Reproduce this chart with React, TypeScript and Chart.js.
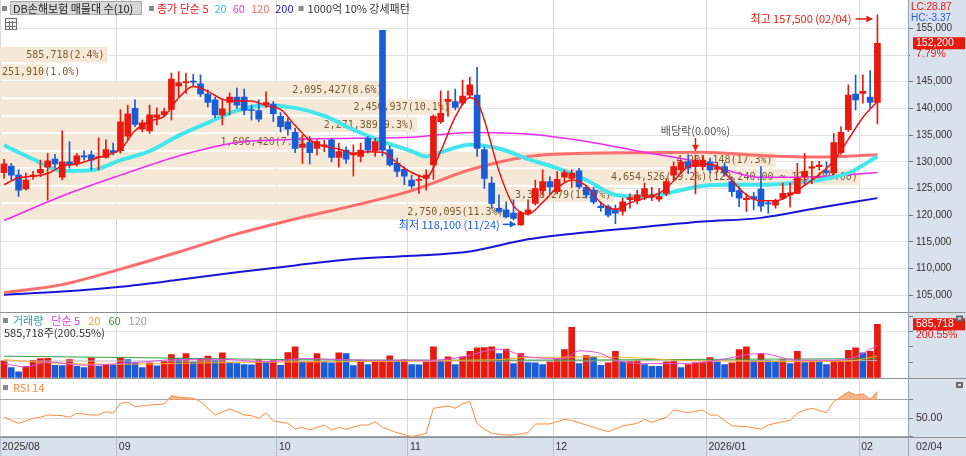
import React, { useEffect, useRef } from "react";
import { Chart, registerables } from "chart.js";

Chart.register(...registerables);

// ---------------- data ----------------
const openP = [127950,129200,127500,124900,127200,127900,129000,130500,127100,130000,
 129600,131100,131300,130800,130800,132100,132100,134800,140000,136100,
 135800,138300,138800,139800,144200,144800,145100,144600,142700,141600,
 138800,141100,142100,142100,139800,139600,140700,140800,138500,137500,
 135500,132700,133600,132500,132900,134100,130800,132200,131300,131000,
 134400,132100,154600,132300,129700,128600,126600,126500,126900,129400,
 137500,141300,141300,141000,142500,142500,132300,126000,121300,121000,
 120400,118200,120400,122200,124600,126300,124400,127100,126900,128300,
 125200,124700,121700,121600,121000,120700,122900,122700,123500,123400,
 123000,124100,127500,128500,130000,129100,129100,130000,128600,129100,
 126300,124600,122900,123500,124900,122300,121900,123200,123800,124100,
 127200,128800,129100,128300,127900,131700,136000,142700,142800,142100,
 141100];
const highP = [130450,129700,128500,127900,128200,130300,131600,131400,135800,133800,
 131600,132100,132000,134500,134100,133500,139800,140600,141600,137800,
 140600,140100,140000,146600,146900,146600,146400,146300,143500,142100,
 141500,142900,143800,143600,140600,141600,143100,141300,139200,138200,
 136300,135000,134700,134100,134000,134400,133500,132800,133200,133500,
 134700,134400,154600,133000,130700,129100,127500,127500,128500,138800,
 143300,143300,143600,145300,145800,147700,132800,127200,123800,122500,
 122900,120700,122900,126600,128500,127200,128200,128500,128500,128800,
 125600,125200,122500,121900,121900,123200,124000,124700,126000,125200,
 125000,126900,130000,130300,131300,131300,131000,130700,129800,129800,
 127200,125300,124000,124300,129100,122800,123000,126000,126000,129700,
 131600,130100,130100,130000,135300,136600,144400,146300,146300,147100,
 157500];
const lowP = [126900,126600,123500,124700,126700,127200,122800,128800,126600,128800,
 129200,130300,128500,128500,130700,131300,131600,134100,136600,135600,
 135300,136900,138500,137800,142200,142800,144100,142200,140300,138200,
 136900,138800,140000,138800,137800,137500,140200,137500,135600,135000,
 131700,129700,129600,131300,131900,130000,129000,129700,127300,130000,
 131600,131000,131100,129200,127200,125700,125000,124100,124700,126700,
 137200,138500,139700,140600,142000,131000,125000,121300,120400,119500,
 119100,118100,120000,121900,123700,123900,124000,126300,125200,124900,
 123200,122100,120700,119700,118400,120000,121300,122100,122900,122700,
 122600,123600,126600,127800,127800,124000,128500,127900,128000,127300,
 123500,121600,120700,121000,120700,120400,121300,122900,121500,124000,
 125700,125900,128500,127600,127600,131400,135700,139700,141000,140000,
 137100];
const closeP = [129600,127500,124700,126600,127500,128600,130200,129600,130000,129400,
 131100,130900,130300,131000,132300,131700,137500,139000,137000,137300,
 138800,138800,139400,145500,144800,145000,144900,142700,141100,138800,
 139900,142100,140600,139600,139600,138000,141100,139000,136600,136100,
 132500,133300,131700,133800,133200,130800,131900,130500,131600,132200,
 132200,133800,132200,129400,128200,127300,125500,126700,127500,138500,
 139100,141700,140200,142300,144400,132500,126900,122200,120700,119700,
 119400,120500,121000,125000,126300,125300,126700,128000,127900,125300,
 123800,122500,121400,120000,120400,122500,123300,123800,125000,123800,
 123500,126300,129100,130000,128800,130300,130300,128500,129000,127900,
 124400,123200,123200,123000,121700,122100,122700,124100,124200,126900,
 128200,129100,129400,128000,133600,135500,142500,141600,143200,141100,
 152200];
const volume = [186000,113000,66000,128000,194000,212000,215000,139000,135000,201000,
 128000,113000,219000,128000,150000,139000,219000,201000,165000,113000,
 165000,132000,183000,256000,212000,267000,175000,212000,238000,194000,
 274000,165000,157000,146000,144000,201000,175000,194000,139000,278000,
 340000,175000,178000,267000,175000,165000,274000,267000,135000,194000,
 146000,180000,190000,241000,194000,198000,146000,144000,175000,340000,
 194000,230000,146000,230000,292000,329000,331000,340000,267000,314000,
 157000,267000,168000,165000,146000,175000,201000,311000,552000,157000,
 245000,230000,139000,165000,292000,175000,183000,186000,146000,128000,
 126000,175000,183000,113000,146000,165000,167000,223000,175000,146000,
 165000,311000,340000,194000,267000,194000,175000,201000,157000,292000,
 168000,194000,190000,146000,194000,196000,303000,329000,274000,292000,
 585718];

// price moving averages (index -> value)
const ma5Idx = [0,2,4,6,8,10,12,14,16,18,20,22,24,26,28,30,32,34,36,38,40,42,44,46,48,50,52,54,56,58,60,62,64,65,66,68,70,72,74,76,78,80,82,84,86,88,90,92,94,96,98,100,102,104,106,108,110,112,114,116,118,120];
const ma5 = [125700,127000,127300,127800,129200,129600,130400,131200,132300,135800,137600,138500,142000,144100,143200,141700,141400,141400,140500,139800,136800,134100,132900,132400,131600,131900,131800,129800,128000,127100,132000,138400,142000,141300,137800,128300,121800,120200,122400,125100,126600,125500,122300,121100,122300,123200,124100,126400,129100,129600,129200,126500,123800,122700,122700,123800,125600,127600,130200,134200,138300,141300];
const ma20Idx = [0,4,8,12,16,20,24,28,32,36,40,44,48,52,56,58,60,64,68,72,76,80,84,88,92,96,100,104,108,112,116,120];
const ma20 = [133100,130500,128300,128400,130300,132000,134900,137300,139600,140600,140100,138600,136000,133800,132000,131000,131800,133200,132500,130500,128800,126600,123800,123500,124400,125500,125700,125700,126000,126600,127900,131000];
const longIdx = [0,8,16,24,32,40,48,56,64,72,80,88,96,104,112,120];
const ma60 = [119000,123600,127500,131100,133600,134200,134400,134600,135500,135200,133800,131800,129800,127100,127200,128000];
const ma120 = [105500,107000,109900,113100,116500,119300,121800,124600,128500,131000,131600,131700,131800,131200,130900,131300];
const ma200 = [105100,105700,106600,107900,109300,110600,111800,112400,113200,115500,116800,117800,118800,119500,121400,123200];

// RSI 14
const rsiIdx = [0,2,4,5,6,8,9,10,12,13,14,15,16,17,18,19,20,22,23,24,26,27,29,31,33,34,35,36,37,39,40,41,42,44,45,46,47,49,50,51,52,53,54,56,57,58,59,61,62,63,64,65,66,67,68,69,70,71,72,73,75,77,78,81,83,85,87,88,89,91,92,94,96,97,98,100,102,104,105,107,108,109,110,111,113,114,115,116,117,118,119,120];
const rsi = [51.1,44.5,50.0,51.1,53.6,52.9,51.1,55.5,53.6,53.6,57.2,55.5,66.4,67.5,62.7,63.5,64.5,65.6,74.7,73.0,71.9,68.2,53.6,60.2,53.6,52.9,50.0,56.1,47.0,44.5,38.3,40.1,37.2,42.7,37.2,40.1,38.0,42.7,42.7,46.3,40.0,37.2,34.3,29.9,31.7,33.5,60.9,63.5,60.9,66.0,68.2,44.0,38.0,33.6,32.5,31.7,31.7,33.0,34.3,43.8,43.8,48.9,47.6,40.2,35.4,41.6,44.5,48.9,45.5,51.1,59.1,56.1,59.1,53.6,53.6,41.6,40.9,38.0,42.7,46.3,47.6,55.5,59.1,60.9,56.1,68.2,73.6,79.1,75.5,76.6,70.8,79.1];

// volume moving averages
const vma5Idx = [0,3,6,11,18,22,27,31,36,41,45,50,54,59,63,68,72,77,79,82,84,89,93,98,104,109,114,117,120];
const vma5 = [157000,121000,175000,139000,168000,194000,205000,201000,175000,212000,205000,194000,194000,194000,230000,314000,230000,212000,296000,267000,194000,157000,157000,194000,267000,194000,194000,230000,358000];
const vma20Idx = [0,8,16,24,32,40,48,56,64,68,72,78,82,88,92,100,108,116,120];
const vma20 = [200000,158000,150000,160000,170000,175000,178000,185000,195000,200000,225000,228000,230000,215000,195000,185000,178000,185000,240000];
const vma60Idx = [0,20,40,60,80,100,120];
const vma60 = [238000,220000,200000,194000,196000,205000,210000];
const vma120Idx = [0,60,120];
const vma120 = [185000,185000,190000];

// volume profile (매물대), top band first
const bandEdges = [151700,148450,145150,141900,138600,135350,132050,128800,125500,122250,118950];
const bandVolume = [585718,251910,2095427,2456937,2271389,1696420,4201148,4654526,3308279,2750095];
const bandPct = [2.4,1.0,8.6,10.1,9.3,7.0,17.3,19.2,13.7,11.3];
const pocRange = [129240, 125460];

const priceTicks = [105000,110000,115000,120000,125000,130000,135000,140000,145000,150000,155000];
const volTicks = [0,170000,340000,505000,675000];
const rsiTicks = [30,50,70];
const monthTickIdx = [-0.55,15.5,37.5,55.5,75.5,96.5,117.5];
const monthLabels = ["2025/08","09","10","11","12","2026/01","02"];

const highDate = "02/04";
const lowDate = "11/24";
const exDivIdx = 95;
const lastDate = "02/04";
const changePct = "7.79%";
const volRatio = "200.55%";
const lcText = "LC:28.87";
const hcText = "HC:-3.37";

// ---------------- style ----------------
const X_MIN = -0.55, X_MAX = 124.2;
const PRICE_MIN = 101967, PRICE_MAX = 160300;
const VOL_MAX = 725000;
const RSI_MIN = 29.56, RSI_MAX = 94;
const VOL_GRID = 505000;
const PROFILE_SPAN = 0.948;
const RED = "#e8190f";
const BLUE = "#1a5cd6";
const AXIS_BG = "#d8e1ec";
const BAND_FILL = "#f6e8d6";
const BAND_TEXT = "#7a5c30";
const KR = '"Noto Sans CJK KR", "Noto Sans", sans-serif';
const NUM = '"Liberation Sans", Arial, sans-serif';
const MONO = '"DejaVu Sans Mono", "Liberation Mono", monospace';

const pts = (idx: number[], vals: number[]) => idx.map((x, k) => ({ x, y: vals[k] }));
const fmt = (v: number) => v.toLocaleString("en-US");
const fmt2 = (v: number) => v.toLocaleString("en-US", { minimumFractionDigits: 2, maximumFractionDigits: 2 });

const upColor = (i: number) => (closeP[i] >= openP[i] ? RED : BLUE);
const volColor = (i: number) => (i === 0 || volume[i] >= volume[i - 1] ? RED : BLUE);

function arrow(ctx: CanvasRenderingContext2D, x0: number, y0: number, x1: number, y1: number, color: string) {
  ctx.strokeStyle = color;
  ctx.fillStyle = color;
  ctx.lineWidth = 1.5;
  ctx.beginPath();
  ctx.moveTo(x0, y0);
  ctx.lineTo(x1, y1);
  ctx.stroke();
  const a = Math.atan2(y1 - y0, x1 - x0);
  ctx.beginPath();
  ctx.moveTo(x1, y1);
  ctx.lineTo(x1 - 6 * Math.cos(a) + 3.5 * Math.sin(a), y1 - 6 * Math.sin(a) - 3.5 * Math.cos(a));
  ctx.lineTo(x1 - 6 * Math.cos(a) - 3.5 * Math.sin(a), y1 - 6 * Math.sin(a) + 3.5 * Math.cos(a));
  ctx.closePath();
  ctx.fill();
}

const decor = {
  id: "decor",
  beforeDraw(chart: any) {
    const { ctx, width, height, chartArea } = chart;
    ctx.save();
    ctx.fillStyle = "#ffffff";
    ctx.fillRect(0, 0, width, height);
    ctx.fillStyle = AXIS_BG;
    ctx.fillRect(chartArea.right, 0, width - chartArea.right, height);
    ctx.fillRect(0, chartArea.bottom, width, height - chartArea.bottom);
    ctx.restore();
  },
  beforeDatasetsDraw(chart: any) {
    const { ctx, chartArea } = chart;
    const ys = chart.scales.y;
    const maxPct = Math.max(...bandPct);
    ctx.save();
    ctx.beginPath();
    ctx.rect(chartArea.left, ys.top, chartArea.width, ys.bottom - ys.top);
    ctx.clip();
    ctx.font = `10px ${MONO}`;
    ctx.textBaseline = "middle";
    bandPct.forEach((pct, k) => {
      const top = ys.getPixelForValue(bandEdges[k]);
      const bot = ys.getPixelForValue(bandEdges[k + 1]);
      const w = (pct / maxPct) * chartArea.width * PROFILE_SPAN;
      ctx.fillStyle = BAND_FILL;
      ctx.fillRect(chartArea.left, top + 1, w, bot - top - 2);
      let label = `${fmt(bandVolume[k])}(${pct.toFixed(1)}%)`;
      if (pct === maxPct) label += `(${fmt2(pocRange[0])} ~ ${fmt2(pocRange[1])})`;
      const tw = ctx.measureText(label).width;
      const right = Math.max(chartArea.left + w - 3, chartArea.left + 2 + tw);
      ctx.fillStyle = BAND_TEXT;
      ctx.textAlign = "right";
      ctx.fillText(label, right, (top + bot) / 2 + 0.5);
    });
    ctx.restore();
  },
  afterDraw(chart: any) {
    const { ctx, chartArea, width, height } = chart;
    const xs = chart.scales.x, ys = chart.scales.y, yv = chart.scales.yv, yr = chart.scales.yr;
    const px = (v: number) => xs.getPixelForValue(v);
    ctx.save();

    // panel separators
    ctx.strokeStyle = "#8f8f8f";
    ctx.lineWidth = 1;
    const hline = (y: number) => {
      const yy = Math.round(y) + 0.5;
      ctx.beginPath();
      ctx.moveTo(0, yy);
      ctx.lineTo(width, yy);
      ctx.stroke();
    };
    hline(yv.top);
    hline(yr.top);
    hline(chartArea.bottom);
    ctx.strokeStyle = "#9aa3ae";
    ctx.beginPath();
    ctx.moveTo(Math.round(chartArea.right) + 0.5, 0);
    ctx.lineTo(Math.round(chartArea.right) + 0.5, height);
    ctx.stroke();

    const text = (s: string, x: number, y: number, color: string, font: string, align: CanvasTextAlign = "left") => {
      ctx.font = font;
      ctx.fillStyle = color;
      ctx.textAlign = align;
      ctx.textBaseline = "middle";
      ctx.fillText(s, x, y);
      return ctx.measureText(s).width;
    };
    const sq = (x: number, y: number) => {
      ctx.fillStyle = "#8a8a8a";
      ctx.fillRect(x, y - 2, 5, 5);
    };
    const series = (items: [string, string][], x: number, y: number, gap: number) => {
      let cx = x;
      items.forEach(([s, c]) => {
        cx += text(s, cx, y, c, `11px ${KR}`) + gap;
      });
      return cx;
    };

    // price panel legend
    sq(2, 8);
    ctx.fillStyle = "#d7d7d7";
    ctx.fillRect(10, 1, 132, 14);
    ctx.strokeStyle = "#a8a8a8";
    ctx.strokeRect(10.5, 1.5, 131, 13);
    text("DB손해보험 매물대 수(10)", 13, 8.5, "#222", `11px ${KR}`);
    sq(149, 8);
    const endX = series([["종가 단순 5", "#ee1c1c"], ["20", "#22cfe0"], ["60", "#e03ee0"], ["120", "#ff6b6b"], ["200", "#2020dc"]], 157, 8.5, 6);
    sq(endX - 1, 8);
    text("1000억 10% 강세패턴", endX + 8, 8.5, "#333", `11px ${KR}`);
    // small table icon
    ctx.fillStyle = "#f2f2f2";
    ctx.fillRect(5, 18, 12, 12);
    ctx.strokeStyle = "#707070";
    ctx.strokeRect(5.5, 18.5, 11, 11);
    ctx.beginPath();
    [22.5, 26.5].forEach((y) => { ctx.moveTo(6, y); ctx.lineTo(16, y); });
    [9.5, 12.5].forEach((x) => { ctx.moveTo(x, 21); ctx.lineTo(x, 29); });
    ctx.stroke();

    // volume legend
    sq(3, 320);
    series([["거래량", "#2f9e9e"], ["단순 5", "#e040e0"], ["20", "#f0a830"], ["60", "#3a9a40"], ["120", "#9a9a9a"]], 13, 320.5, 8);
    text(`${fmt(volume[volume.length - 1])}주(${volRatio})`, 4, 333, "#333", `11px ${KR}`);

    // RSI legend
    sq(3, 387);
    text("RSI 14", 13, 388, "#ff8a3d", `11px ${KR}`);

    // high / low annotations
    const hiIdx = highP.indexOf(Math.max(...highP));
    const loIdx = lowP.indexOf(Math.min(...lowP));
    const hx = px(hiIdx) - 5, hy = ys.getPixelForValue(highP[hiIdx]) + 4;
    arrow(ctx, hx - 17, hy, hx, hy, RED);
    text(`최고 ${fmt(highP[hiIdx])} (${highDate})`, hx - 21, hy, RED, `11px ${KR}`, "right");
    const lx = px(loIdx) - 5, ly = ys.getPixelForValue(lowP[loIdx]) - 1;
    arrow(ctx, lx - 13, ly, lx, ly, BLUE);
    text(`최저 ${fmt(lowP[loIdx])} (${lowDate})`, lx - 16, ly, BLUE, `11px ${KR}`, "right");
    // ex-dividend marker
    const dx = px(exDivIdx), dy = ys.getPixelForValue(highP[exDivIdx]);
    arrow(ctx, dx, dy - 17, dx, dy - 4, RED);
    text("배당락(0.00%)", dx, dy - 24, "#555", `11px ${KR}`, "center");

    // right axis labels
    text(lcText, 911, 7, RED, `10px ${NUM}`);
    text(hcText, 911, 18, "#2a62d8", `10px ${NUM}`);
    const last = closeP.length - 1;
    const cy = ys.getPixelForValue(closeP[last]);
    ctx.fillStyle = AXIS_BG;
    ctx.fillRect(chartArea.right + 2, cy + 5, width - chartArea.right - 3, 12);
    ctx.fillStyle = RED;
    ctx.fillRect(913, cy - 6, 52, 12);
    text(fmt(closeP[last]), 916, cy, "#fff", `10.5px ${NUM}`);
    text(changePct, 916, cy + 11, RED, `10.5px ${NUM}`);
    const vy = yv.getPixelForValue(volume[last]);
    ctx.fillStyle = RED;
    ctx.fillRect(913, vy - 6, 52, 12);
    text(fmt(volume[last]), 916, vy, "#fff", `10.5px ${NUM}`);
    text(volRatio, 916, vy + 11, RED, `10.5px ${NUM}`);
    [yv.top + 4, yr.top + 4].forEach((y) => {
      ctx.fillStyle = "#6b6b6b";
      ctx.fillRect(956, y, 7, 6);
      ctx.fillStyle = "#dcdcdc";
      ctx.fillRect(958, y + 2, 3, 2);
    });

    // x axis labels
    const ly2 = (chartArea.bottom + height) / 2 + 0.5;
    monthTickIdx.forEach((v, k) => {
      const x = k === 0 ? 2 : px(v) + 2;
      text(monthLabels[k], x, ly2, "#333", `10.5px ${NUM}`);
    });
    text(lastDate, chartArea.right + 8, ly2, "#333", `10.5px ${NUM}`);
    ctx.restore();
  },
};

export default function App() {
  const ref = useRef<HTMLCanvasElement>(null);
  useEffect(() => {
    const canvas = ref.current!;
    const idx = openP.map((_, i) => i);
    const line = (data: any[], color: string, width: number, axis: string, order: number) => ({
      type: "line" as const,
      data,
      yAxisID: axis,
      borderColor: color,
      borderWidth: width,
      pointRadius: 0,
      cubicInterpolationMode: "monotone" as const,
      fill: false,
      order,
    });
    const chart = new Chart(canvas, {
      type: "line",
      data: {
        datasets: [
          line(pts(ma5Idx, ma5), "#f01212", 1.5, "y", 0),
          {
            type: "bar",
            data: idx.map((i) => ({ x: i, y: [openP[i], closeP[i]] })),
            yAxisID: "y",
            backgroundColor: (c: any) => upColor(c.dataIndex),
            barThickness: 6,
            minBarLength: 1,
            grouped: false,
            order: 1,
          } as any,
          {
            type: "bar",
            data: idx.map((i) => ({ x: i, y: [lowP[i], highP[i]] })),
            yAxisID: "y",
            backgroundColor: (c: any) => upColor(c.dataIndex),
            barThickness: 1,
            grouped: false,
            order: 2,
          } as any,
          line(pts(ma20Idx, ma20), "#44e6ee", 4, "y", 3),
          line(pts(longIdx, ma60), "#f02af0", 1.5, "y", 4),
          line(pts(longIdx, ma120), "#ff6e6e", 3, "y", 5),
          line(pts(longIdx, ma200), "#1616d8", 2, "y", 6),
          line(pts(vma5Idx, vma5), "#e050e0", 1, "yv", 7),
          line(pts(vma20Idx, vma20), "#f0b030", 1, "yv", 8),
          line(pts(vma60Idx, vma60), "#34a044", 1, "yv", 9),
          line(pts(vma120Idx, vma120), "#b4b4b4", 1, "yv", 10),
          {
            type: "bar",
            data: idx.map((i) => ({ x: i, y: volume[i] })),
            yAxisID: "yv",
            backgroundColor: (c: any) => volColor(c.dataIndex),
            barThickness: 6,
            grouped: false,
            order: 11,
          } as any,
          {
            type: "line",
            data: pts(rsiIdx, rsi),
            yAxisID: "yr",
            borderColor: "#ff8c40",
            borderWidth: 1,
            pointRadius: 0,
            fill: { target: { value: 70 }, above: "rgba(244,156,100,0.75)", below: "rgba(0,0,0,0)" },
            order: 12,
          } as any,
        ],
      },
      options: {
        animation: false,
        responsive: false,
        events: [],
        layout: { padding: 0 },
        plugins: { legend: { display: false }, tooltip: { enabled: false } },
        scales: {
          x: {
            type: "linear",
            min: X_MIN,
            max: X_MAX,
            offset: false,
            position: "bottom",
            afterBuildTicks: (s: any) => { s.ticks = monthTickIdx.map((v) => ({ value: v })); },
            afterFit: (s: any) => { s.height = 19; s.paddingLeft = 0; s.paddingRight = 0; },
            ticks: { display: false },
            grid: { offset: false, color: "#d9d9d9", tickLength: 19, tickColor: "#b6bfca" },
            border: { display: false },
          },
          y: {
            type: "linear",
            position: "right",
            stack: "panels",
            stackWeight: 311.5,
            min: PRICE_MIN,
            max: PRICE_MAX,
            afterBuildTicks: (s: any) => { s.ticks = priceTicks.map((v) => ({ value: v })); },
            afterFit: (s: any) => { s.width = 58; s.paddingTop = 0; s.paddingBottom = 0; },
            ticks: { autoSkip: false, padding: 3, color: "#333", font: { family: NUM, size: 10 }, callback: (v: any) => fmt(Number(v)) },
            grid: { color: "#e3e3e3", tickLength: 5, tickColor: "#7a7a7a" },
            border: { display: false },
          },
          yv: {
            type: "linear",
            position: "right",
            stack: "panels",
            stackWeight: 66.5,
            min: 0,
            max: VOL_MAX,
            afterBuildTicks: (s: any) => { s.ticks = volTicks.map((v) => ({ value: v })); },
            afterFit: (s: any) => { s.width = 58; s.paddingTop = 0; s.paddingBottom = 0; },
            ticks: { autoSkip: false, callback: () => "" },
            grid: {
              color: (c: any) => (c.tick && c.tick.value === VOL_GRID ? "#e3e3e3" : "rgba(0,0,0,0)"),
              tickLength: 5,
              tickColor: "#7a7a7a",
            },
            border: { display: false },
          },
          yr: {
            type: "linear",
            position: "right",
            stack: "panels",
            stackWeight: 59,
            min: RSI_MIN,
            max: RSI_MAX,
            afterBuildTicks: (s: any) => { s.ticks = rsiTicks.map((v) => ({ value: v })); },
            afterFit: (s: any) => { s.width = 58; s.paddingTop = 0; s.paddingBottom = 0; },
            ticks: {
              autoSkip: false,
              padding: 3,
              color: "#333",
              font: { family: NUM, size: 10.5 },
              callback: (v: any) => (Number(v) === 50 ? "50.00" : ""),
            },
            grid: {
              color: (c: any) => (c.tick && c.tick.value === 50 ? "#dedede" : "#a4a4a4"),
              tickLength: 5,
              tickColor: "#7a7a7a",
            },
            border: { display: false },
          },
        },
      } as any,
      plugins: [decor],
    });
    return () => chart.destroy();
  }, []);
  return (
    <div style={{ position: "fixed", left: 0, top: 0, width: 966, height: 456, background: "#fff" }}>
      <canvas ref={ref} width={966} height={456} style={{ display: "block", width: 966, height: 456 }} />
    </div>
  );
}
